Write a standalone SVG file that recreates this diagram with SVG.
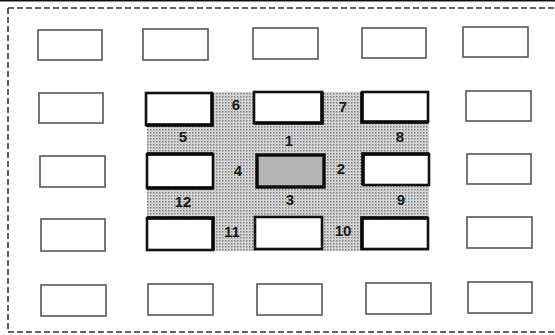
<svg xmlns="http://www.w3.org/2000/svg" width="555" height="335" viewBox="0 0 555 335">
<defs>
<pattern id="dots" width="3" height="3" patternUnits="userSpaceOnUse">
<rect width="3" height="3" fill="#dedede"/>
<rect x="0" y="0" width="1.5" height="1.5" fill="#7a7a7a"/>
<rect x="1.5" y="1.5" width="1" height="1" fill="#ababab"/>
</pattern>
<style>
.ob{fill:#fff;stroke:#555;stroke-width:1.6}
.ib{fill:#fff;stroke:#111;stroke-width:2.6}
.cb{fill:#b4b4b4;stroke:#0a0a0a;stroke-width:3.4}
.thick{stroke:#0a0a0a;stroke-width:3.5;fill:none}
.dash{stroke:#333;stroke-width:1.6;stroke-dasharray:6 3;fill:none}
.lbl{font-family:"Liberation Sans",Arial,sans-serif;font-size:15px;font-weight:bold;fill:#1a1a1a;text-anchor:middle}
</style>
</defs>
<g id="frame">
<line x1="0" y1="0.8" x2="555" y2="0.8" stroke="#111" stroke-width="1.6"/>
<line class="dash" x1="8" y1="8" x2="555" y2="8"/>
<line class="dash" x1="8" y1="8" x2="8" y2="332"/>
<line class="dash" x1="8" y1="332" x2="555" y2="332"/>
</g>
<g id="shaded-area">
<rect x="147" y="92" width="282" height="159" fill="url(#dots)"/>
</g>
<g id="row1">
<g id="r1c1"><rect class="ob" x="38" y="30" width="64" height="30"/></g>
<g id="r1c2"><rect class="ob" x="143" y="29" width="65" height="31"/></g>
<g id="r1c3"><rect class="ob" x="253" y="28" width="65" height="31"/></g>
<g id="r1c4"><rect class="ob" x="362" y="28" width="64" height="30"/></g>
<g id="r1c5"><rect class="ob" x="463" y="27" width="65" height="30"/></g>
</g>
<g id="row2">
<g id="r2c1"><rect class="ob" x="39" y="93" width="64" height="30"/></g>
<g id="r2c2"><rect class="ib" x="146" y="93" width="66" height="32"/><path class="thick" d="M146 125H212V93"/></g>
<g id="r2c3"><rect class="ib" x="254" y="92" width="68" height="31"/><path class="thick" d="M254 123H322V92"/></g>
<g id="r2c4"><rect class="ib" x="362" y="92" width="66" height="30"/><path class="thick" d="M362 92V122H428"/></g>
<g id="r2c5"><rect class="ob" x="466" y="91" width="65" height="30"/></g>
</g>
<g id="row3">
<g id="r3c1"><rect class="ob" x="40" y="156" width="65" height="31"/></g>
<g id="r3c2"><rect class="ib" x="147" y="154" width="66" height="34"/><path class="thick" d="M147 154H213M147 188H213"/></g>
<g id="r3c3"><rect class="cb" x="257" y="155" width="67" height="32"/></g>
<g id="r3c4"><rect class="ib" x="363" y="154" width="66" height="31"/><path class="thick" d="M363 185V154H429"/></g>
<g id="r3c5"><rect class="ob" x="467" y="154" width="64" height="30"/></g>
</g>
<g id="row4">
<g id="r4c1"><rect class="ob" x="41" y="219" width="64" height="32"/></g>
<g id="r4c2"><rect class="ib" x="147" y="218" width="66" height="32"/><path class="thick" d="M147 218H213V250"/></g>
<g id="r4c3"><rect class="ib" x="255" y="217" width="67" height="32"/></g>
<g id="r4c4"><rect class="ib" x="362" y="218" width="66" height="31"/><path class="thick" d="M362 250V218H428"/></g>
<g id="r4c5"><rect class="ob" x="467" y="217" width="65" height="31"/></g>
</g>
<g id="row5">
<g id="r5c1"><rect class="ob" x="41" y="285" width="65" height="31"/></g>
<g id="r5c2"><rect class="ob" x="148" y="284" width="65" height="31"/></g>
<g id="r5c3"><rect class="ob" x="257" y="284" width="65" height="31"/></g>
<g id="r5c4"><rect class="ob" x="366" y="283" width="65" height="31"/></g>
<g id="r5c5"><rect class="ob" x="468" y="282" width="64" height="31"/></g>
</g>
<g id="labels">
<text class="lbl" x="236" y="110">6</text>
<text class="lbl" x="343" y="112">7</text>
<text class="lbl" x="183" y="142">5</text>
<text class="lbl" x="289" y="146">1</text>
<text class="lbl" x="400" y="142">8</text>
<text class="lbl" x="238" y="176">4</text>
<text class="lbl" x="341" y="174">2</text>
<text class="lbl" x="183" y="207">12</text>
<text class="lbl" x="290" y="205">3</text>
<text class="lbl" x="401" y="205">9</text>
<text class="lbl" x="232" y="237">11</text>
<text class="lbl" x="343" y="236">10</text>
</g>
</svg>
